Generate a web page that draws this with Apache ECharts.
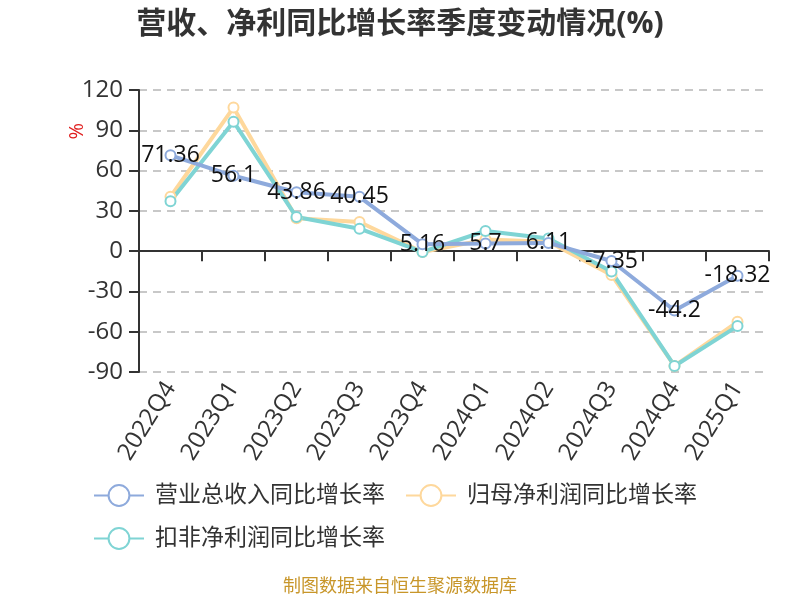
<!DOCTYPE html>
<html><head><meta charset="utf-8">
<script src="https://cdn.jsdelivr.net/npm/echarts@6/dist/echarts.min.js"></script>
<style>html,body{margin:0;padding:0;background:#fff}#c{width:800px;height:600px}</style>
</head><body><div id="c"></div>
<script>
const categories = ['2022Q4','2023Q1','2023Q2','2023Q3','2023Q4','2024Q1','2024Q2','2024Q3','2024Q4','2025Q1'];
const revenue = [71.36, 56.1, 43.86, 40.45, 5.16, 5.7, 6.11, -7.35, -44.2, -18.32];
const netProfit = [40.5, 106.9, 24.5, 21.7, -0.6, 8.6, 7.0, -17.7, -85.5, -52.6];
const deductedProfit = [37.2, 96.4, 25.4, 16.7, -0.6, 15.0, 9.4, -15.2, -85.5, -55.8];
const yTicks = {min: -90, max: 120, interval: 30};
const names = ['营业总收入同比增长率','归母净利润同比增长率','扣非净利润同比增长率'];

const chart = echarts.init(document.getElementById('c'));
const font = '"Open Sans", "Noto Sans CJK SC", sans-serif';
chart.setOption({
  textStyle: {fontFamily: font},
  title: {text: '营收、净利同比增长率季度变动情况(%)', left: 'center', top: 4,
    textStyle: {fontSize: 30, fontWeight: 'bold', color: '#333', fontFamily: font}},
  color: ['#8eaadc', '#fed89c', '#7fd4d4'],
  grid: {left: 139, right: 31, top: 90, bottom: 228},
  legend: {
    data: names, left: 88, top: 479, width: 660, itemWidth: 50, itemHeight: 26, itemGap: 20,
    textStyle: {fontSize: 23, color: '#333', fontFamily: font, padding: [0, 0, 0, 6]}
  },
  xAxis: {
    type: 'category', data: categories, boundaryGap: true,
    axisLine: {onZero: true, lineStyle: {color: '#333', width: 2}},
    axisTick: {show: true, length: 10, lineStyle: {color: '#333', width: 2}},
    axisLabel: {rotate: 58, fontSize: 24, color: '#333', margin: 12, interval: 0}
  },
  yAxis: {
    type: 'value', min: yTicks.min, max: yTicks.max, interval: yTicks.interval,
    axisLine: {show: true, lineStyle: {color: '#333', width: 2}},
    axisTick: {show: true, length: 10, lineStyle: {color: '#333', width: 2}},
    axisLabel: {fontSize: 24, color: '#333', margin: 16},
    splitLine: {lineStyle: {type: [8, 6], color: '#c8c8c8', width: 2}}
  },
  graphic: [
    {type: 'text', left: 67, top: 123, rotation: Math.PI/2,
      style: {text: '%', fill: '#e02020', fontSize: 20, fontFamily: font}},
    {type: 'text', left: 'center', top: 578,
      style: {text: '制图数据来自恒生聚源数据库', fill: '#c8962a', fontSize: 18, fontFamily: font}}
  ],
  series: [
    {name: names[0], type: 'line', data: revenue, symbol: 'emptyCircle', symbolSize: 10, z: 3,
      lineStyle: {width: 4}, itemStyle: {borderWidth: 2},
      label: {show: true, position: 'inside', fontSize: 23, color: '#111'}},
    {name: names[1], type: 'line', data: netProfit, symbol: 'emptyCircle', symbolSize: 10, z: 2,
      lineStyle: {width: 4}, itemStyle: {borderWidth: 2}},
    {name: names[2], type: 'line', data: deductedProfit, symbol: 'emptyCircle', symbolSize: 10, z: 2,
      lineStyle: {width: 4}, itemStyle: {borderWidth: 2}}
  ]
});
</script></body></html>
